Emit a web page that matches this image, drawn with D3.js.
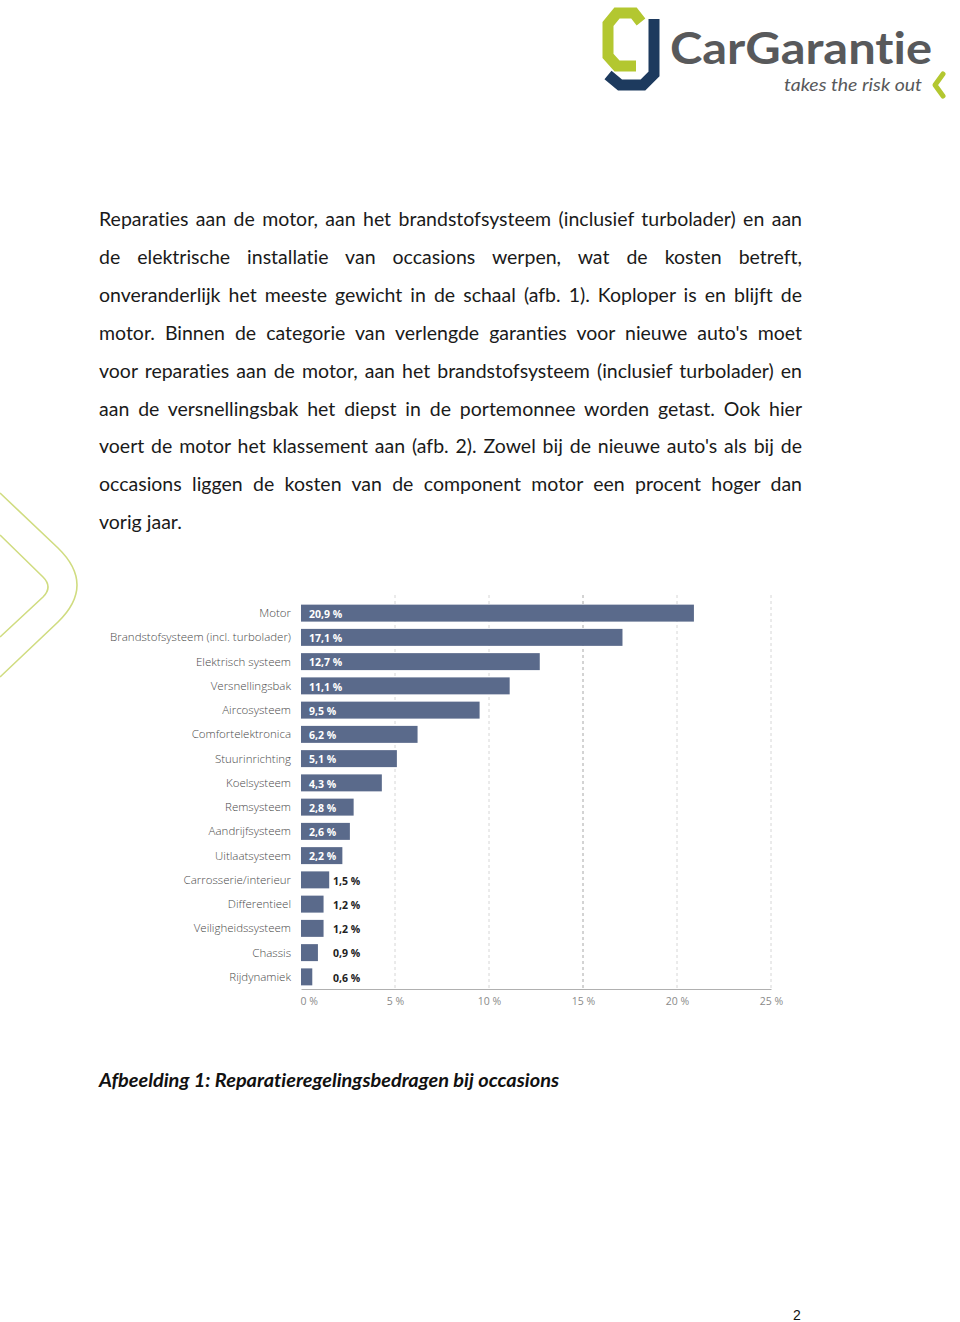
<!DOCTYPE html>
<html>
<head>
<meta charset="utf-8">
<script src="https://cdn.jsdelivr.net/npm/d3@7"></script>
<style>
  html, body { margin: 0; padding: 0; background: #fff; }
  svg { display: block; }
  text { font-variant-ligatures: none; font-feature-settings: "liga" 0, "dlig" 0; }
</style>
</head>
<body>
<svg id="page" width="960" height="1322"></svg>
<script>
// ---- DATA ----
const categories = [
  "Motor", "Brandstofsysteem (incl. turbolader)", "Elektrisch systeem", "Versnellingsbak",
  "Aircosysteem", "Comfortelektronica", "Stuurinrichting", "Koelsysteem", "Remsysteem",
  "Aandrijfsysteem", "Uitlaatsysteem", "Carrosserie/interieur", "Differentieel",
  "Veiligheidssysteem", "Chassis", "Rijdynamiek"
];
const values = [20.9, 17.1, 12.7, 11.1, 9.5, 6.2, 5.1, 4.3, 2.8, 2.6, 2.2, 1.5, 1.2, 1.2, 0.9, 0.6];
const tickValues = [0, 5, 10, 15, 20, 25];
const tickLabels = ["0 %", "5 %", "10 %", "15 %", "20 %", "25 %"];

const bodyLines = [
  "Reparaties aan de motor, aan het brandstofsysteem (inclusief turbolader) en aan",
  "de elektrische installatie van occasions werpen, wat de kosten betreft,",
  "onveranderlijk het meeste gewicht in de schaal (afb. 1). Koploper is en blijft de",
  "motor. Binnen de categorie van verlengde garanties voor nieuwe auto's moet",
  "voor reparaties aan de motor, aan het brandstofsysteem (inclusief turbolader) en",
  "aan de versnellingsbak het diepst in de portemonnee worden getast. Ook hier",
  "voert de motor het klassement aan (afb. 2). Zowel bij de nieuwe auto's als bij de",
  "occasions liggen de kosten van de component motor een procent hoger dan",
  "vorig jaar."
];
const captionText = "Afbeelding 1: Reparatieregelingsbedragen bij occasions";

// ---- STYLE ----
const lime = "#b3c730";
const navy = "#1d3a5e";
const barColor = "#5a6a8b";
const bodyFont = "Lato, 'Open Sans', sans-serif";

const svg = d3.select("#page");

// ---- left decoration ----
svg.append("path")
  .attr("d", "M0,493 L58,548 Q96,585 58,622 L0,677")
  .attr("fill", "none").attr("stroke", "#d0dc80").attr("stroke-width", 1.6);
svg.append("path")
  .attr("d", "M0,535 L43,577 Q53,587 43,597 L0,637")
  .attr("fill", "none").attr("stroke", "#d0dc80").attr("stroke-width", 1.6);

// ---- logo ----
const logo = svg.append("g");
logo.append("path")
  .attr("d", "M641,22 L634,13 L617,13 L608,24 L608,56 L617,66 L636,66")
  .attr("fill", "none").attr("stroke", lime).attr("stroke-width", 11).attr("stroke-linejoin", "miter");
logo.append("path")
  .attr("d", "M654,19 L654,74 L643,85 L620,85 L608,75")
  .attr("fill", "none").attr("stroke", navy).attr("stroke-width", 11).attr("stroke-linejoin", "miter");
logo.append("text")
  .attr("x", 670).attr("y", 64)
  .attr("font-family", "Lato, 'Open Sans', sans-serif").attr("font-weight", 700)
  .attr("font-size", 44).attr("fill", "#58595b")
  .attr("textLength", 262).attr("lengthAdjust", "spacingAndGlyphs")
  .text("CarGarantie");
logo.append("text")
  .attr("x", 784).attr("y", 91)
  .attr("font-family", "Lato, 'Open Sans', sans-serif").attr("font-style", "italic")
  .attr("font-size", 17).attr("fill", "#58595b")
  .attr("textLength", 138).attr("lengthAdjust", "spacingAndGlyphs")
  .text("takes the risk out");
logo.append("path")
  .attr("d", "M943,74 L935,85 L943,96")
  .attr("fill", "none").attr("stroke", lime).attr("stroke-width", 5).attr("stroke-linecap", "round").attr("stroke-linejoin", "round");

// ---- body text ----
const textLeft = 99, textRight = 802, lineTop = 226, lineStep = 37.9;
const tg = svg.append("g")
  .attr("font-family", bodyFont).attr("font-size", 19.5).attr("fill", "#1a1a1a");
bodyLines.forEach((line, i) => {
  const t = tg.append("text")
    .attr("x", textLeft).attr("y", lineTop + i * lineStep)
    .text(line);
  if (i < bodyLines.length - 1) {
    const w = t.node().getComputedTextLength();
    const target = textRight - textLeft;
    const spaces = (line.match(/ /g) || []).length;
    if (w < target && spaces > 0) {
      t.attr("word-spacing", (target - w) / spaces);
    } else {
      t.attr("textLength", target).attr("lengthAdjust", "spacingAndGlyphs");
    }
  }
});

// ---- chart ----
const x = d3.scaleLinear().domain([0, 25]).range([301, 771]);
const y = d3.scaleBand().domain(categories).range([601, 989]).paddingInner(0.3).paddingOuter(0.15);
const chart = svg.append("g");

// gridlines
chart.append("g").selectAll("line")
  .data(tickValues.filter(v => v > 0))
  .join("line")
  .attr("x1", d => x(d)).attr("x2", d => x(d))
  .attr("y1", 595).attr("y2", 989)
  .attr("stroke", d => d === 15 ? "#a8a8a8" : "#d6d6d6")
  .attr("stroke-width", 1)
  .attr("stroke-dasharray", "3,3");

// axis
const xAxis = d3.axisBottom(x).tickValues(tickValues)
  .tickFormat((d, i) => tickLabels[i]).tickSize(0).tickPadding(9);
const axG = chart.append("g").attr("transform", "translate(0,989)").call(xAxis);
axG.select(".domain").attr("stroke", "#b0b0b0");
axG.selectAll("text")
  .attr("font-family", "'Open Sans', sans-serif").attr("font-size", 10.5).attr("fill", "#8a8a8a");
axG.selectAll(".tick").filter(d => d === 0).select("text").attr("text-anchor", "start").attr("dx", -1);

// bars
chart.append("g").selectAll("rect")
  .data(values)
  .join("rect")
  .attr("x", x(0))
  .attr("y", (d, i) => y(categories[i]))
  .attr("width", d => x(d) - x(0))
  .attr("height", y.bandwidth())
  .attr("fill", barColor);

// category labels
chart.append("g").selectAll("text")
  .data(categories)
  .join("text")
  .attr("x", 291)
  .attr("y", d => y(d) + y.bandwidth() / 2)
  .attr("dy", "0.35em")
  .attr("text-anchor", "end")
  .attr("font-family", "'Open Sans', sans-serif").attr("font-weight", 300)
  .attr("font-size", 11.5).attr("fill", "#4a4a4a")
  .text(d => d);

// value labels
chart.append("g").selectAll("text")
  .data(values)
  .join("text")
  .attr("x", d => d >= 2 ? x(0) + 8 : x(0) + 32)
  .attr("y", (d, i) => y(categories[i]) + y.bandwidth() / 2 + 1)
  .attr("dy", "0.35em")
  .attr("font-family", "'Open Sans', sans-serif").attr("font-weight", 700)
  .attr("font-size", 10.5)
  .attr("fill", d => d >= 2 ? "#ffffff" : "#222222")
  .text(d => d3.format(".1f")(d).replace(".", ",") + " %");

// caption
svg.append("text")
  .attr("x", 99).attr("y", 1087)
  .attr("font-family", bodyFont).attr("font-weight", 700).attr("font-style", "italic")
  .attr("font-size", 18).attr("fill", "#111")
  .attr("textLength", 460).attr("lengthAdjust", "spacingAndGlyphs")
  .text(captionText);

// page number
svg.append("text")
  .attr("x", 793).attr("y", 1320)
  .attr("font-family", "'Liberation Sans', Arial, sans-serif")
  .attr("font-size", 14).attr("fill", "#111")
  .text("2");
</script>
</body>
</html>
